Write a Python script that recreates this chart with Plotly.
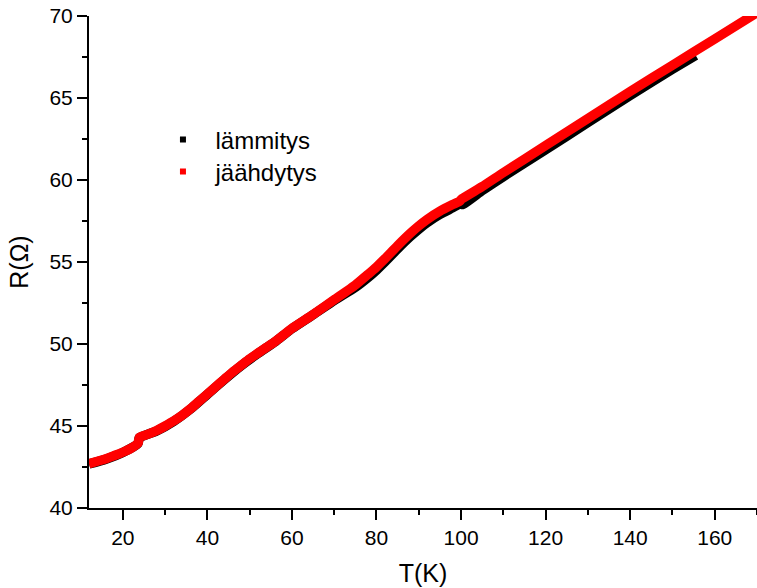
import plotly.graph_objects as go

# Cooling (jäähdytys) curve
T_cool = [12, 14, 16, 18, 20, 22, 23.6, 23.9, 26, 28, 30, 32, 34, 36, 38, 40, 42, 44, 46, 48, 50, 52, 54, 56, 58, 60, 65, 70, 75, 78, 80, 82, 85, 88, 90, 92, 95, 98, 99.6, 100.2, 105, 110, 120, 130, 140, 150, 160, 170]
R_cool = [42.7, 42.85, 43.0, 43.2, 43.4, 43.65, 43.95, 44.3, 44.5, 44.72, 45.0, 45.3, 45.65, 46.05, 46.5, 46.95, 47.4, 47.85, 48.3, 48.7, 49.1, 49.45, 49.8, 50.15, 50.55, 50.95, 51.8, 52.7, 53.6, 54.25, 54.7, 55.2, 56.0, 56.75, 57.2, 57.6, 58.1, 58.5, 58.7, 58.85, 59.6, 60.45, 62.1, 63.75, 65.4, 67.0, 68.6, 70.2]

# Heating (lämmitys) curve
T_heat = [12, 16, 20, 23.6, 23.9, 28, 32, 36, 40, 44, 48, 52, 56, 60, 65, 70, 75, 78, 80, 82, 85, 88, 90, 92, 95, 98, 99.8, 100.4, 105, 110, 120, 130, 140, 150, 155.5]
R_heat = [42.68, 42.98, 43.38, 43.93, 44.28, 44.7, 45.28, 46.03, 46.93, 47.83, 48.68, 49.43, 50.13, 50.93, 51.78, 52.65, 53.45, 54.05, 54.5, 55.0, 55.8, 56.55, 57.0, 57.4, 57.9, 58.3, 58.55, 58.5, 59.35, 60.2, 61.85, 63.5, 65.15, 66.75, 67.6]

fig = go.Figure()
fig.add_trace(go.Scatter(x=T_heat, y=R_heat, mode="lines",
                         line=dict(color="black", width=9.5, shape="spline", smoothing=0.5),
                         showlegend=False))
fig.add_trace(go.Scatter(x=T_cool, y=R_cool, mode="lines",
                         line=dict(color="#ff0000", width=9.5, shape="spline", smoothing=0.5),
                         showlegend=False))
# legend entries
fig.add_trace(go.Scatter(x=[None], y=[None], mode="markers", name="lämmitys", legend="legend",
                         marker=dict(symbol="square", color="black", size=6)))
fig.add_trace(go.Scatter(x=[None], y=[None], mode="markers", name="jäähdytys", legend="legend2",
                         marker=dict(symbol="square", color="#ff0000", size=6)))

font = "Liberation Sans, Arial, sans-serif"
leg = dict(xanchor="left", yanchor="middle", font=dict(size=24, family=font),
           bgcolor="rgba(0,0,0,0)", itemwidth=55)
fig.update_layout(
    width=757, height=588,
    margin=dict(l=89, r=0, t=16, b=80),
    paper_bgcolor="white", plot_bgcolor="white",
    font=dict(family=font, color="black", size=21),
    legend=dict(x=0.092, y=0.748, **leg),
    legend2=dict(x=0.092, y=0.683, **leg),
    xaxis=dict(range=[12, 170], tickmode="array", tickvals=[20, 40, 60, 80, 100, 120, 140, 160],
               ticks="outside", ticklen=10, tickwidth=2, tickcolor="black",
               showline=True, linecolor="black", linewidth=2, showgrid=False, zeroline=False,
               minor=dict(tickvals=[30, 50, 70, 90, 110, 130, 150, 170], ticks="outside", ticklen=5, tickwidth=2, tickcolor="black"),
               tickfont=dict(size=21),
               title=dict(text="T(K)", font=dict(size=25), standoff=16)),
    yaxis=dict(range=[40, 70], tickmode="array", tickvals=[40, 45, 50, 55, 60, 65, 70],
               ticks="outside", ticklen=10, tickwidth=2, tickcolor="black",
               showline=True, linecolor="black", linewidth=2, showgrid=False, zeroline=False,
               minor=dict(tickvals=[42.5, 47.5, 52.5, 57.5, 62.5, 67.5], ticks="outside", ticklen=5, tickwidth=2, tickcolor="black"),
               tickfont=dict(size=21),
               title=dict(text="R(Ω)", font=dict(size=25), standoff=14)),
)
fig.write_html("out.html")
